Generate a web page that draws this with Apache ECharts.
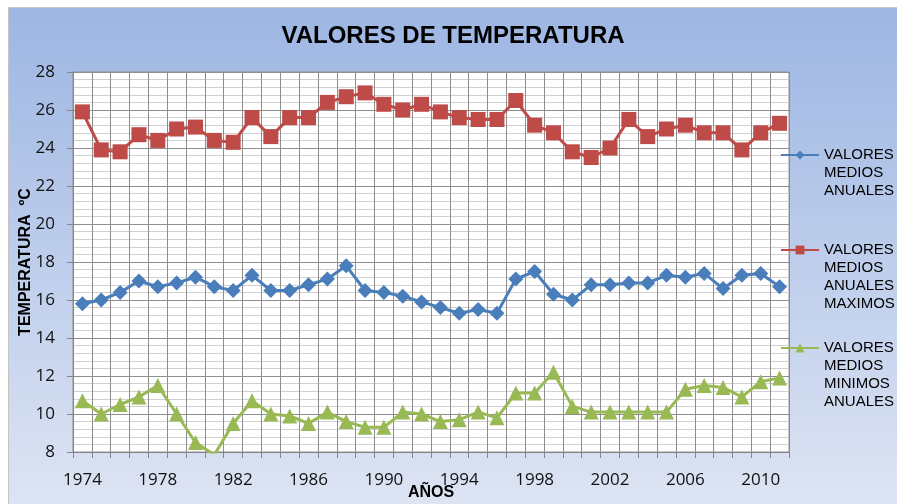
<!DOCTYPE html>
<html>
<head>
<meta charset="utf-8">
<script src="https://cdn.jsdelivr.net/npm/echarts@6/dist/echarts.min.js"></script>
<style>
  html, body { margin: 0; padding: 0; background: #fff; overflow: hidden; }
  #chart {
    position: absolute; left: 8px; top: 7px;
    width: 888px; height: 496px;
    border-left: 1px solid #c4c4c4; border-top: 1px solid #c4c4c4;
  }
</style>
</head>
<body>
<div id="chart"></div>
<script>
var years = ['1974','1975','1976','1977','1978','1979','1980','1981','1982','1983',
    '1984','1985','1986','1987','1988','1989','1990','1991','1992','1993',
    '1994','1995','1996','1997','1998','1999','2000','2001','2002','2003',
    '2004','2005','2006','2007','2008','2009','2010','2011'];

var medios = [15.8, 16.0, 16.4, 17.0, 16.7, 16.9, 17.2, 16.7, 16.5, 17.3,
    16.5, 16.5, 16.8, 17.1, 17.8, 16.5, 16.4, 16.2, 15.9, 15.6,
    15.3, 15.5, 15.3, 17.1, 17.5, 16.3, 16.0, 16.8, 16.8, 16.9,
    16.9, 17.3, 17.2, 17.4, 16.6, 17.3, 17.4, 16.7];

var maximos = [25.9, 23.9, 23.8, 24.7, 24.4, 25.0, 25.1, 24.4, 24.3, 25.6,
    24.6, 25.6, 25.6, 26.4, 26.7, 26.9, 26.3, 26.0, 26.3, 25.9,
    25.6, 25.5, 25.5, 26.5, 25.2, 24.8, 23.8, 23.5, 24.0, 25.5,
    24.6, 25.0, 25.2, 24.8, 24.8, 23.9, 24.8, 25.3];

var minimos = [10.7, 10.0, 10.5, 10.9, 11.5, 10.0, 8.5, 7.85, 9.5, 10.7,
    10.0, 9.9, 9.5, 10.1, 9.6, 9.3, 9.3, 10.1, 10.0, 9.6,
    9.7, 10.1, 9.8, 11.1, 11.1, 12.2, 10.4, 10.1, 10.1, 10.1,
    10.1, 10.1, 11.3, 11.5, 11.4, 10.9, 11.7, 11.9];

var names = ['VALORES MEDIOS ANUALES', 'VALORES MEDIOS ANUALES MAXIMOS', 'VALORES MEDIOS MINIMOS ANUALES'];

var dom = document.getElementById('chart');
var myChart = echarts.init(dom);

// one legend per series; blank lines above the text keep the marker level with the first line
function legendFor(name, top) {
    return {
        left: 771,
        top: top,
        orient: 'vertical',
        padding: 0,
        itemWidth: 38,
        itemHeight: 11,
        data: [name],
        formatter: function (n) {
            var words = n.split(' ');
            var blank = [];
            for (var i = 1; i < words.length; i++) blank.push('');
            return blank.concat(words).join('\n');
        },
        textStyle: {
            fontFamily: 'Liberation Sans, Arial, sans-serif',
            fontSize: 15,
            lineHeight: 18,
            color: '#000'
        }
    };
}

var axisFont = 'Open Sans, sans-serif';

var option = {
    backgroundColor: {
        type: 'linear', x: 0, y: 0, x2: 0, y2: 1,
        colorStops: [
            { offset: 0, color: '#9db6e3' },
            { offset: 1, color: '#dde4f3' }
        ]
    },
    title: {
        text: 'VALORES DE TEMPERATURA',
        left: 'center',
        top: 16,
        padding: [0, 0, 0, 40],
        textStyle: {
            fontFamily: 'Liberation Sans, Arial, sans-serif',
            fontWeight: 'bold',
            fontSize: 24,
            color: '#000'
        }
    },
    legend: [
        legendFor(names[0], 102),
        legendFor(names[1], 179),
        legendFor(names[2], 277)
    ],
    grid: {
        left: 64,
        right: 108,
        top: 64,
        bottom: 52,
        containLabel: false,
        outerBoundsMode: 'none',
        show: true,
        backgroundColor: '#fff',
        borderColor: '#8e8e8e',
        borderWidth: 1
    },
    xAxis: {
        type: 'category',
        data: years,
        boundaryGap: true,
        name: 'AÑOS',
        nameLocation: 'middle',
        nameGap: 33,
        nameMoveOverlap: false,
        nameTextStyle: {
            fontFamily: 'Liberation Sans, Arial, sans-serif',
            fontWeight: 'bold',
            fontSize: 16,
            color: '#000'
        },
        axisLine: { lineStyle: { color: '#868686', width: 1 } },
        axisTick: { show: true, interval: 0, length: 6, lineStyle: { color: '#868686' } },
        axisLabel: {
            interval: 3,
            margin: 20,
            fontFamily: axisFont,
            fontSize: 17,
            color: '#111'
        },
        splitLine: { show: true, interval: 0, lineStyle: { color: '#8e8e8e', width: 1 } }
    },
    yAxis: {
        type: 'value',
        min: 8,
        max: 28,
        interval: 2,
        name: 'TEMPERATURA  ºC',
        nameLocation: 'middle',
        nameGap: 39,
        nameMoveOverlap: false,
        nameTextStyle: {
            fontFamily: 'Liberation Sans, Arial, sans-serif',
            fontWeight: 'bold',
            fontSize: 16,
            color: '#000'
        },
        axisLine: { show: true, lineStyle: { color: '#868686', width: 1 } },
        axisTick: { show: true, length: 6, lineStyle: { color: '#868686' } },
        axisLabel: {
            margin: 18,
            fontFamily: axisFont,
            fontSize: 17,
            color: '#111'
        },
        splitLine: { show: true, lineStyle: { color: '#8e8e8e', width: 1 } },
        minorTick: { show: false, splitNumber: 5 },
        minorSplitLine: { show: true, lineStyle: { color: '#d0d0d0', width: 1 } }
    },
    series: [{
        name: names[0],
        type: 'line',
        data: medios,
        symbol: 'diamond',
        symbolSize: 15,
        showAllSymbol: true,
        color: '#4a7ebb',
        lineStyle: { width: 3, color: '#4a7ebb' },
        itemStyle: { color: '#4a7ebb' }
    }, {
        name: names[1],
        type: 'line',
        data: maximos,
        symbol: 'rect',
        symbolSize: 15,
        showAllSymbol: true,
        color: '#be4b48',
        lineStyle: { width: 3, color: '#be4b48' },
        itemStyle: { color: '#be4b48' }
    }, {
        name: names[2],
        type: 'line',
        data: minimos,
        symbol: 'triangle',
        symbolSize: 15,
        showAllSymbol: true,
        color: '#98b954',
        lineStyle: { width: 3, color: '#98b954' },
        itemStyle: { color: '#98b954' }
    }]
};

if (option && typeof option === 'object') {
    myChart.setOption(option, true);
}

window.onresize = function () {
    myChart.resize();
};
</script>
</body>
</html>
